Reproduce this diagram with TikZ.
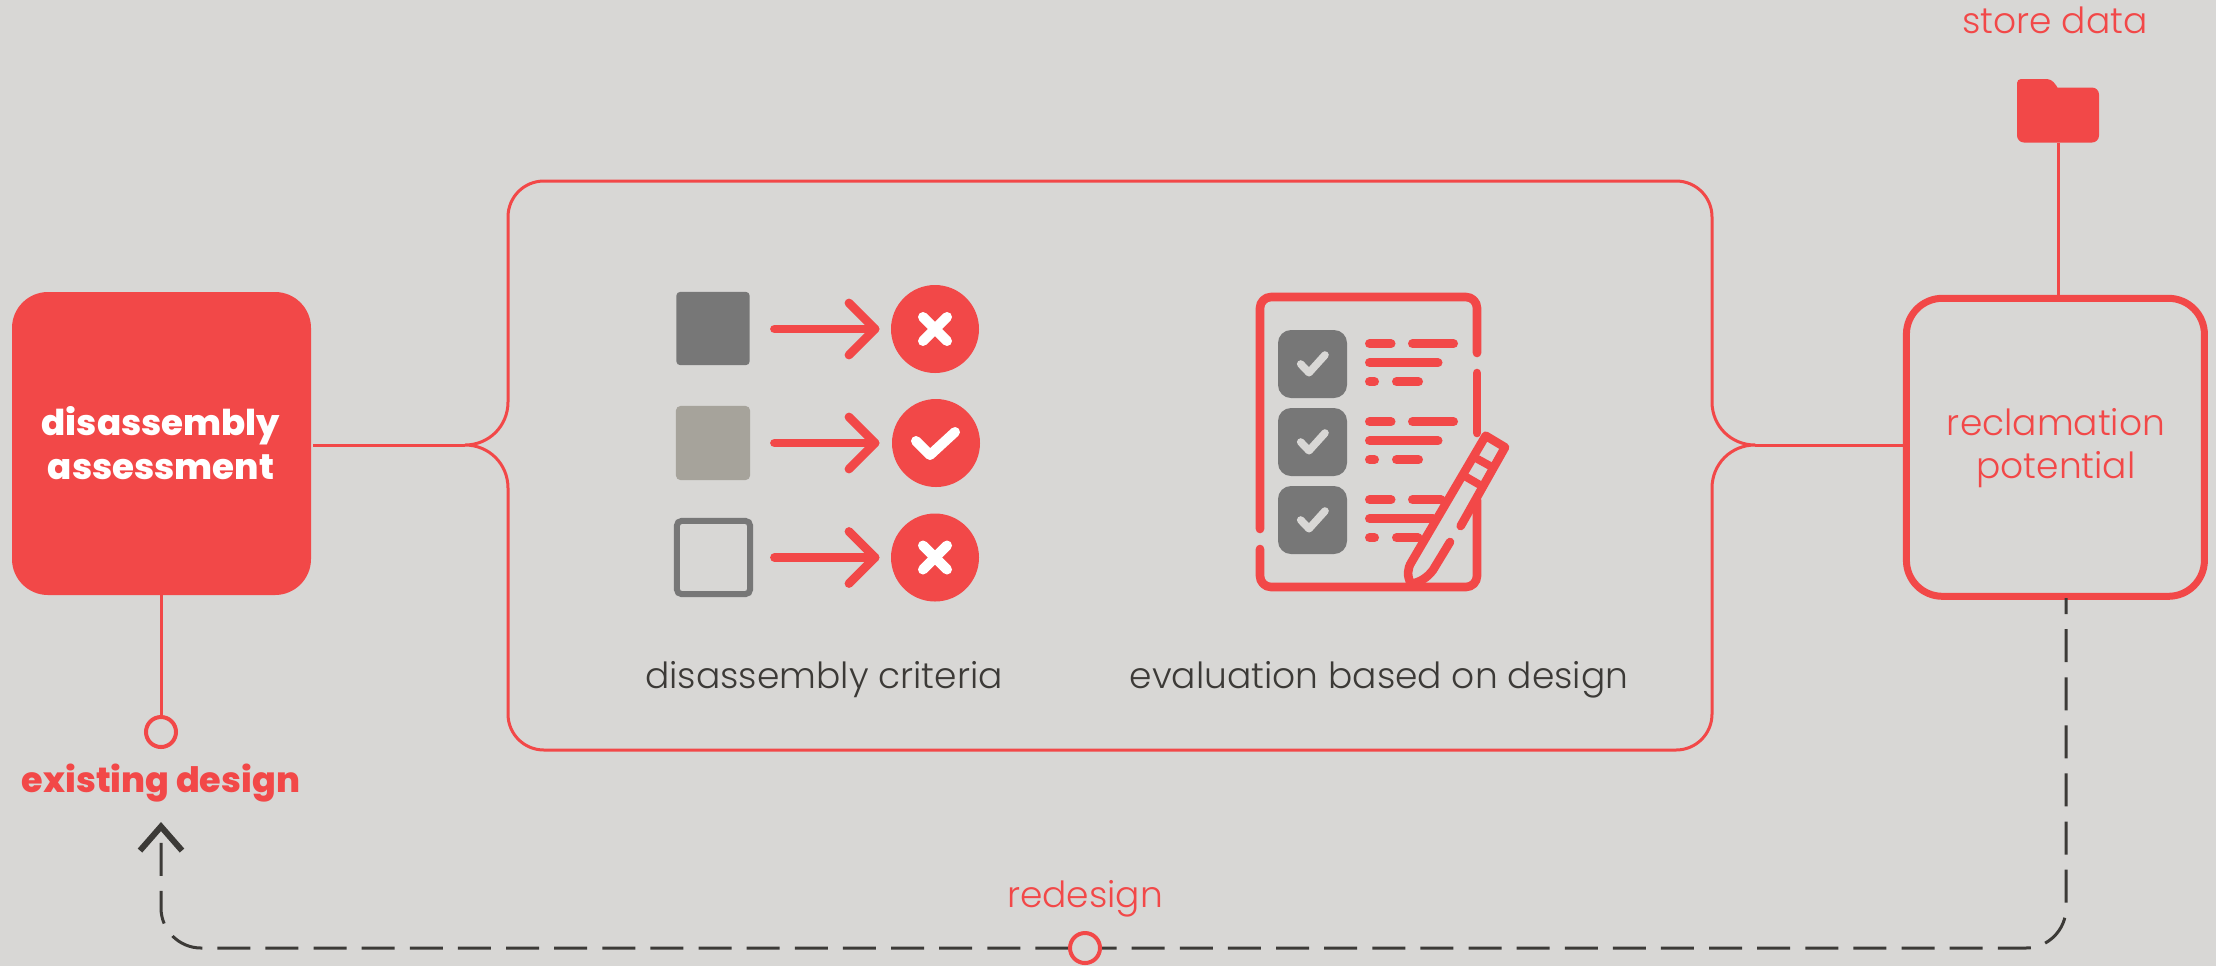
\documentclass[tikz,border=0pt]{standalone}
\usepackage{fontspec}
\setmainfont{Poppins}
\newfontfamily\lightf{Poppins Light}
\newfontfamily\heavyf{Poppins ExtraBold}
\usetikzlibrary{arrows.meta}
\definecolor{bg}{HTML}{D8D7D5}
\definecolor{red1}{HTML}{F24848}
\definecolor{ink}{HTML}{3C3A37}
\definecolor{gr1}{HTML}{777777}
\definecolor{gr2}{HTML}{A6A39B}
\tikzset{
 thin red/.style={draw=red1,line width=1.5pt},
 lbl/.style={anchor=base,inner sep=0pt,font=\lightf\fontsize{18pt}{20pt}\selectfont},
 redlbl/.style={lbl,text=red1},
 darklbl/.style={lbl,text=ink},
 boldlbl/.style={anchor=base,inner sep=0pt,font=\heavyf\fontsize{17.8pt}{20pt}\selectfont},
 dot/.style={circle,draw=red1,fill=bg,line width=2pt,minimum size=15pt,inner sep=0pt},
 icon/.style={draw=red1,line width=4.4pt,line cap=round,line join=round},
 bar/.style={draw=red1,line width=4.5pt,line cap=round},
 clip2/.style={draw=red1,line width=4.3pt,line cap=round,line join=round},
 badge/.style={circle,fill=red1,minimum size=44pt,inner sep=0pt},
 marker/.style={draw=white,line width=5pt,line cap=round,line join=round},
 tick/.style={draw=bg,line width=3.8pt,line cap=round,line join=round},
}
\begin{document}
\begin{tikzpicture}[x=0.5pt,y=-0.5pt]
\useasboundingbox (0,0) rectangle (2216,966);
\fill[bg] (0,0) rectangle (2216,966);
% main boxes
\node[fill=red1,rounded corners=18pt,minimum width=149.5pt,minimum height=151.5pt,inner sep=0pt] (assess) at (161.5,443.5) {};
\node[boldlbl,text=white] (t1) at (161,435) {disassembly};
\node[boldlbl,text=white] (t2) at (161,479) {assessment};
\node[draw=red1,line width=3.5pt,rounded corners=18pt,minimum width=149pt,minimum height=149pt,inner sep=0pt] (reclaim) at (2055.4,447.3) {};
\node[redlbl] (t3) at (2056,435) {reclamation};
\node[redlbl] (t4) at (2056,478.5) {potential};
% centre frame
\coordinate (fl) at (465,445);
\coordinate (fr) at (1755,445);
\draw[thin red,line join=round]
 (fl) .. controls (489,445) and (508,426) .. (508,402) -- (508,217)
 .. controls (508,197) and (524,181) .. (544,181) -- (1676,181)
 .. controls (1696,181) and (1712,197) .. (1712,217) -- (1712,402)
 .. controls (1712,426) and (1731,445) .. (fr)
 .. controls (1731,445) and (1712,464) .. (1712,488) -- (1712,714)
 .. controls (1712,734) and (1696,750) .. (1676,750) -- (544,750)
 .. controls (524,750) and (508,734) .. (508,714) -- (508,488)
 .. controls (508,464) and (489,445) .. (fl);
\draw[thin red] ([xshift=1pt]assess.east |- fl) -- (fl);
\draw[thin red] (fr) -- (reclaim.west |- fr);
% existing design
\node[dot] (exist) at (161,732) {};
\draw[thin red] (assess.south -| exist.north) -- (exist.north);
\node[boldlbl,text=red1,font=\heavyf\fontsize{17.5pt}{20pt}\selectfont] (t5) at (161,792) {existing design};
% store data
\node[redlbl] (t6) at (2055,33) {store data};
\node[fill=red1,minimum width=41pt,minimum height=27.5pt,rounded corners=3.5pt,inner sep=0pt] (folder) at (2058,115) {};
\fill[red1,rounded corners=2pt] (2017,100) -- (2017,79) -- (2051,79) -- (2059,89) -- (2059,100) -- cycle;
\draw[thin red] (folder.south) -- (reclaim.north -| folder.south);
% redesign loop
\coordinate (loopstart) at (2066,598);
\coordinate (looptip) at (161,822);
\draw[draw=ink,line width=1.5pt,dash pattern=on 16.5pt off 7.56pt,dash phase=8.5pt,
 -{Straight Barb[length=12pt,width=21pt,line width=3pt,line cap=butt,line join=miter]}]
 (loopstart) -- (2066,908) .. controls (2066,930) and (2048,948) .. (2026,948)
 -- (201,948) .. controls (179,948) and (161,930) .. (161,908) -- (looptip);
\node[dot] (mid) at (1085,948) {};
\node[redlbl] (t7) at (1085,907) {redesign};
% criteria icon
\node[fill=gr1,rounded corners=2pt,minimum size=36.7pt,inner sep=0pt] (s1) at (713,328.5) {};
\node[fill=gr2,rounded corners=2.5pt,minimum size=37.2pt,inner sep=0pt] (s2) at (713,443) {};
\node[draw=gr1,line width=3pt,rounded corners=2.5pt,minimum size=36.7pt,inner sep=0pt] (s3) at (713.5,557.5) {};
\node[badge] (b1) at (935,329) {};
\node[badge] (b2) at (936,443) {};
\node[badge] (b3) at (935,557.5) {};
\foreach \b/\y in {b1/329,b2/443,b3/557.5}{
 \coordinate (tip\b) at (875,\y);
 \draw[icon] (774.5,\y) -- (tip\b);
 \draw[icon] (849,\y-26) -- (tip\b) -- (849,\y+26);
}
\draw[marker] (b1.center) ++(-12,-12) -- ++(24,24);
\draw[marker] (b1.center) ++(12,-12) -- ++(-24,24);
\draw[marker] (b3.center) ++(-12,-12) -- ++(24,24);
\draw[marker] (b3.center) ++(12,-12) -- ++(-24,24);
\draw[marker] (b2.center) ++(-20,-2) -- ++(14,14) -- ++(25,-23);
\node[darklbl] (t8) at (824,688) {disassembly criteria};
\node[darklbl] (t9) at (1379,688) {evaluation based on design};
% checklist icon
\draw[clip2] (1260,529) -- (1260,308) .. controls (1260,302) and (1265,297) .. (1271,297)
 -- (1466,297) .. controls (1472,297) and (1477,302) .. (1477,308) -- (1477,353);
\draw[clip2] (1477,373) -- (1477,433);
\draw[clip2] (1477,500) -- (1477,576) .. controls (1477,582) and (1472,587) .. (1466,587)
 -- (1271,587) .. controls (1265,587) and (1260,582) .. (1260,576) -- (1260,549);
\foreach \dy in {0,78,156}{
 \fill[gr1,rounded corners=6.5pt] (1278,330+\dy) rectangle (1347,398+\dy);
 \draw[tick] (1300.7,364+\dy) -- (1309,372.7+\dy) -- (1325,355+\dy);
 \draw[bar] (1369.5,343.7+\dy) -- (1391,343.7+\dy);
 \draw[bar] (1369.5,381.7+\dy) -- (1374.5,381.7+\dy);
}
\foreach \dy in {0,78}{
 \draw[bar] (1412.5,343.7+\dy) -- (1453.5,343.7+\dy);
 \draw[bar] (1369.5,362.7+\dy) -- (1438,362.7+\dy);
 \draw[bar] (1396.5,381.7+\dy) -- (1418.5,381.7+\dy);
}
\draw[bar] (1412.5,499.7) -- (1441,499.7);
\draw[bar] (1369.5,518.7) -- (1433,518.7);
\draw[bar] (1396.5,537.7) -- (1418,537.7);
% pencil
\draw[clip2] (1450,542) -- (1433,570) .. controls (1427,578) and (1420,582) .. (1411,584)
 .. controls (1407,576) and (1407,569) .. (1411.7,561.7) -- (1485.7,435.7) -- (1505,447.3) -- (1460.7,526);
\draw[draw=red1,line width=4pt] (1473.3,456.7) -- (1495.7,469);
\draw[draw=red1,line width=4pt] (1462.7,475) -- (1484.7,487.7);
\end{tikzpicture}
\end{document}
